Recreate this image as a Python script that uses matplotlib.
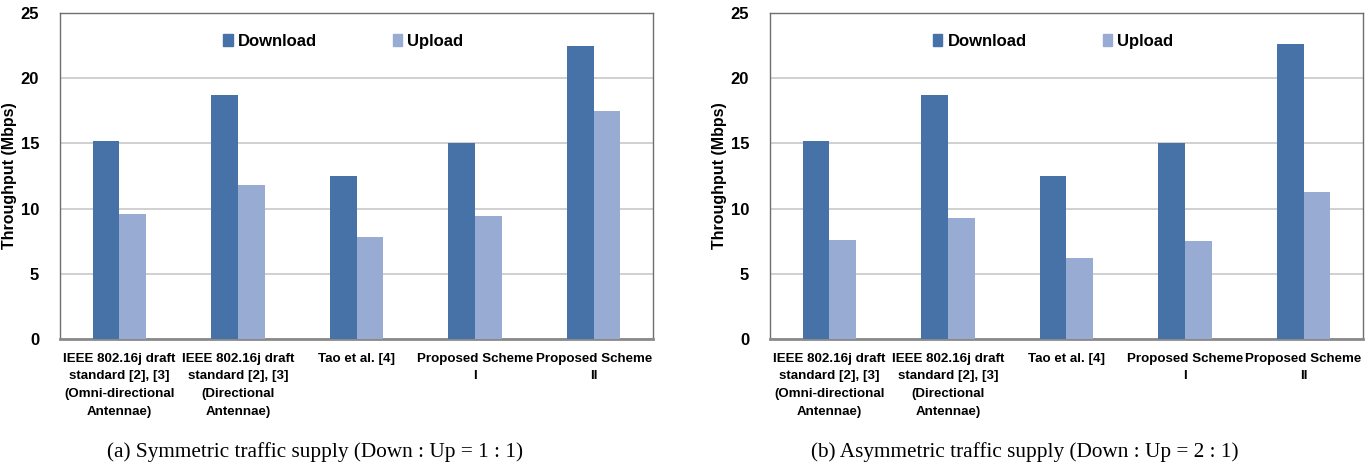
import matplotlib
matplotlib.use("Agg")
import matplotlib.pyplot as plt
import numpy as np
from matplotlib.patches import Patch

categories = [
    "IEEE 802.16j draft\nstandard [2], [3]\n(Omni-directional\nAntennae)",
    "IEEE 802.16j draft\nstandard [2], [3]\n(Directional\nAntennae)",
    "Tao et al. [4]",
    "Proposed Scheme\nI",
    "Proposed Scheme\nII",
]

sym_download = [15.2, 18.7, 12.5, 15.0, 22.5]
sym_upload = [9.6, 11.8, 7.8, 9.4, 17.5]

asym_download = [15.2, 18.7, 12.5, 15.0, 22.6]
asym_upload = [7.6, 9.3, 6.2, 7.5, 11.3]

yticks = [0, 5, 10, 15, 20, 25]

captions = [
    "(a) Symmetric traffic supply (Down : Up = 1 : 1)",
    "(b) Asymmetric traffic supply (Down : Up = 2 : 1)",
]

DOWN_COLOR = "#4672a8"
UP_COLOR = "#97abd3"
SANS = "Liberation Sans"
SERIF = "Liberation Serif"

fig = plt.figure(figsize=(13.71, 4.70), dpi=100)

panels = [
    (0.0438, sym_download, sym_upload),
    (0.5616, asym_download, asym_upload),
]

for (left, down, up), caption in zip(panels, captions):
    ax = fig.add_axes([left, 0.2787, 0.4325, 0.6936])
    x = np.arange(len(categories))
    w = 0.225
    ax.bar(x - w / 2, down, width=w, color=DOWN_COLOR, zorder=3)
    ax.bar(x + w / 2, up, width=w, color=UP_COLOR, zorder=3)

    ax.set_xlim(-0.5, len(categories) - 0.5)
    ax.set_ylim(0, 25)
    ax.set_yticks(yticks)
    ax.set_yticklabels([str(t) for t in yticks], fontfamily=SANS,
                       fontweight="bold", fontsize=12)
    ax.tick_params(axis="y", length=0, pad=15)
    ax.set_xticks(x)
    ax.set_xticklabels(categories, fontfamily=SANS, fontweight="bold",
                       fontsize=9.6, linespacing=1.62)
    ax.tick_params(axis="x", length=0, pad=10)

    ax.grid(axis="y", color="#c8c8c8", linewidth=1.2, zorder=0)
    for s in ["left", "right", "top"]:
        ax.spines[s].set_color("#6e6e6e")
        ax.spines[s].set_linewidth(1.0)
    ax.spines["bottom"].set_color("#8a8a8a")
    ax.spines["bottom"].set_linewidth(2.0)

    ax.set_ylabel("Throughput (Mbps)", fontfamily=SANS, fontweight="bold",
                  fontsize=11.5)
    ax.yaxis.set_label_coords(-0.072, 0.5)

    handles = [Patch(color=DOWN_COLOR), Patch(color=UP_COLOR)]
    ax.legend(handles, ["Download", "Upload"], loc="upper center",
              bbox_to_anchor=(0.478, 0.982), ncol=2, frameon=False,
              prop={"family": SANS, "weight": "bold", "size": 12},
              handlelength=0.55, handleheight=0.7, handletextpad=0.3,
              columnspacing=4.6)

    ax.text(0.43, -0.347, caption, transform=ax.transAxes, ha="center",
            va="center", fontfamily=SERIF, fontsize=15.3)

fig.savefig("out.png", dpi=100)
